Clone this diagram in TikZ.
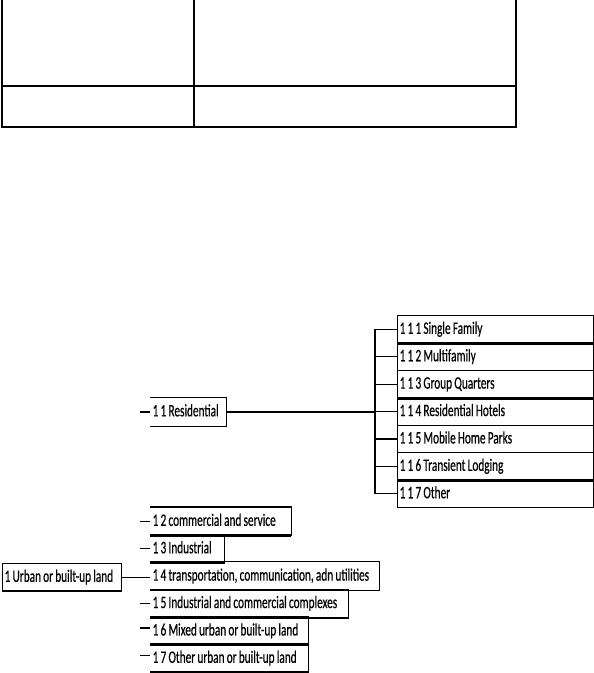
\documentclass[tikz,border=0pt]{standalone}
\usepackage{fontspec}
\setmainfont[FakeStretch=0.645, FakeBold=0.5]{Carlito}
\newcommand\boxfont{\fontsize{17.5}{17.5}\selectfont}
\newcommand\tx[1]{\mbox{\spaceskip 2.2pt\relax\xspaceskip 2.2pt\relax #1}}
\begin{document}
\begin{tikzpicture}[x=1pt,y=-1pt,line width=1.3pt,
  lbl/.style={font=\boxfont,
    anchor=north west, inner xsep=2pt, inner ysep=0pt,
    minimum height=27.4pt, text height=12.5pt, text depth=3.5pt, align=left},
  leaf/.style={lbl, draw, text width=192pt},
  thickline/.style={line width=2.6pt}]
\useasboundingbox (0,0) rectangle (594,673);
% top table
\draw (2,0) -- (2,127) -- (516,127) -- (516,0);
\draw (194,0) -- (194,127);
\draw (2,86) -- (516,86);
% level 3 boxes
\node[leaf] (r1) at (397,315.0) {\tx{1 1 1 Single Family}};
\node[leaf] (r2) at (397,342.4) {\tx{1 1 2 Multifamily}};
\node[leaf] (r3) at (397,369.8) {\tx{1 1 3 Group Quarters}};
\node[leaf] (r4) at (397,397.2) {\tx{1 1 4 Residential Hotels}};
\node[leaf] (r5) at (397,424.6) {\tx{1 1 5 Mobile Home Parks}};
\node[leaf] (r6) at (397,452.0) {\tx{1 1 6 Transient Lodging}};
\node[leaf] (r7) at (397,479.4) {\tx{1 1 7 Other}};
\draw[thickline] (r1.south west) -- (r1.south east);
\draw[thickline] (r3.south west) -- (r3.south east);
\draw[thickline] (r6.south west) -- (r6.south east);
% level 2 boxes
\node[lbl, text width=71pt] (n11) at (150,397.5) {\tx{1 1 Residential}};
\node[lbl, text width=136pt] (n12) at (150,507.0) {\tx{1 2 commercial and service}};
\node[lbl, text width=69pt] (n13) at (150,534.4) {\tx{1 3 Industrial}};
\node[lbl, text width=224pt] (n14) at (150,561.8) {\tx{1 4 transportation, communication, adn utilities}};
\node[lbl, text width=193pt] (n15) at (150,589.2) {\tx{1 5 Industrial and commercial complexes}};
\node[lbl, text width=153pt] (n16) at (150,616.6) {\tx{1 6 Mixed urban or built-up land}};
\node[lbl, text width=153pt] (n17) at (150,644.0) {\tx{1 7 Other urban or built-up land}};
\foreach \n in {n11,n12,n13,n14,n15,n16,n17}
  \draw (\n.north west) -| (\n.south east) -- (\n.south west);
\draw[thickline] (n12.south west) -- (n12.south east);
\draw[thickline] (n15.south west) -- (n15.south east);
\draw[thickline] (n17.south west) -- (n17.south east);
% level 1 box
\node[lbl, draw, text width=115pt] (n1) at (2,563) {\tx{1 Urban or built-up land}};
% connectors
\coordinate (bus) at (375,0);
\draw (n11.east) -- (n11.east -| bus);
\draw (r1.west) -- (r1.west -| bus) -- (r7.west -| bus) -- (r7.west);
\foreach \r in {r2,r3,r4,r5,r6}
  \draw (\r.west) -- (\r.west -| bus);
\draw (n1.east) -- (n1.east -| n14.west);
\foreach \n in {n11,n12,n13,n15}
  \draw ([xshift=-10pt]\n.west) -- (\n.west);
\foreach \n in {n16,n17}
  \draw ([xshift=-10pt,yshift=3pt]\n.west) -- ([yshift=3pt]\n.west);
\end{tikzpicture}
\end{document}
